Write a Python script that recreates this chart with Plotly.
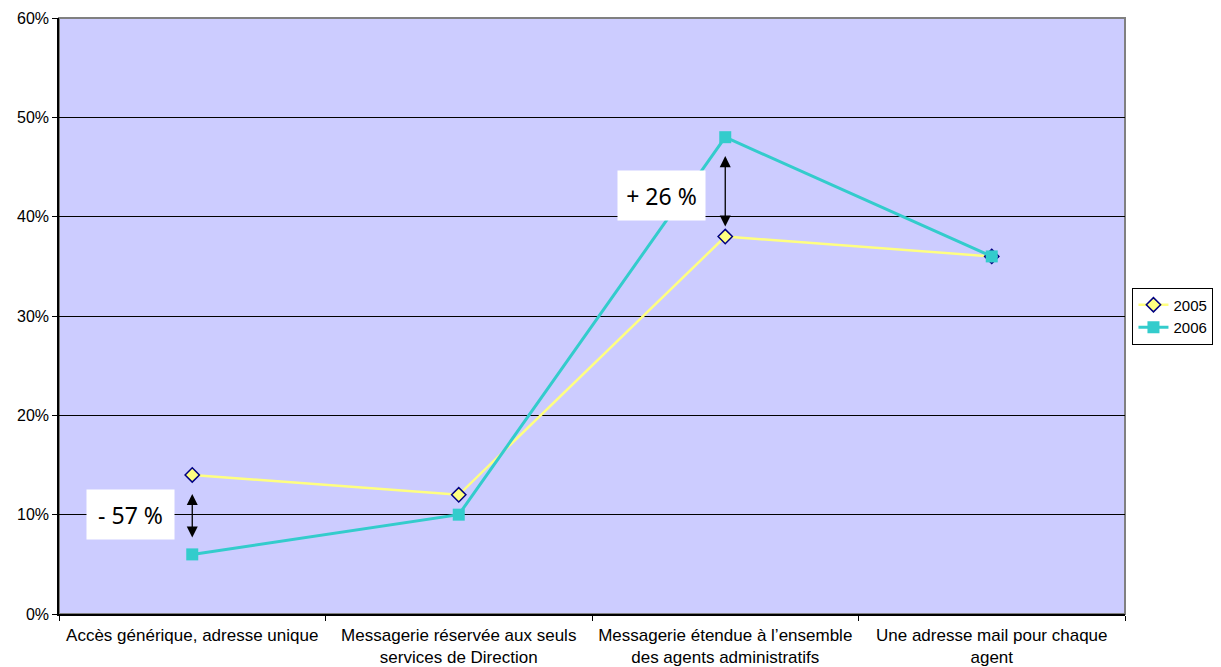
import plotly.graph_objects as go

categories = [
    "Accès générique, adresse unique",
    "Messagerie réservée aux seuls<br>services de Direction",
    "Messagerie étendue à l’ensemble<br>des agents administratifs",
    "Une adresse mail pour chaque<br>agent",
]
values_2005 = [0.14, 0.12, 0.38, 0.36]
values_2006 = [0.06, 0.10, 0.48, 0.36]
y_ticks = [0, 0.1, 0.2, 0.3, 0.4, 0.5, 0.6]
y_tick_labels = ["0%", "10%", "20%", "30%", "40%", "50%", "60%"]

fig = go.Figure()
fig.add_trace(go.Scatter(
    x=categories, y=values_2005, name="2005", mode="lines+markers",
    line=dict(color="#FFFF80", width=2.5),
    marker=dict(symbol="diamond", size=11, color="#FFFF80",
                line=dict(color="#000080", width=1.5)),
))
fig.add_trace(go.Scatter(
    x=categories, y=values_2006, name="2006", mode="lines+markers",
    line=dict(color="#33CCCC", width=3),
    marker=dict(symbol="square", size=12, color="#33CCCC",
                line=dict(color="#33CCCC", width=0)),
))

# plot border (gray top/right)
fig.add_shape(type="rect", xref="paper", yref="paper", x0=0, x1=1, y0=0, y1=1,
              line=dict(color="#808080", width=2), layer="below")

# labels in white boxes
fig.add_annotation(x=0.0675, y=0.0997, xref="paper", yref="y",
                   xanchor="center", yanchor="middle",
                   text="- 57 %", showarrow=False, bgcolor="white",
                   font=dict(family="Noto Sans", size=23, color="black"),
                   borderpad=0, width=87, height=49)
fig.add_annotation(x=0.5652, y=0.421, xref="paper", yref="y",
                   xanchor="center", yanchor="middle",
                   text="+ 26 %", showarrow=False, bgcolor="white",
                   font=dict(family="Noto Sans", size=23, color="black"),
                   borderpad=0, width=87, height=49)

# double-headed arrows
fig.add_annotation(x=categories[0], y=0.077, xref="x", yref="y",
                   ax=0, ay=-45, text="", showarrow=True,
                   arrowhead=2, startarrowhead=2, arrowside="end+start",
                   arrowsize=1.7, startarrowsize=1.7, arrowwidth=1.3,
                   arrowcolor="black", standoff=0, startstandoff=0)
fig.add_annotation(x=categories[2], y=0.39, xref="x", yref="y",
                   ax=0, ay=-72, text="", showarrow=True,
                   arrowhead=2, startarrowhead=2, arrowside="end+start",
                   arrowsize=1.7, startarrowsize=1.7, arrowwidth=1.3,
                   arrowcolor="black", standoff=0, startstandoff=0)

fig.update_layout(
    width=1221, height=667,
    margin=dict(l=51, r=104, t=10, b=61, autoexpand=False),
    paper_bgcolor="white", plot_bgcolor="#CCCCFF",
    font=dict(family="Liberation Sans, Arial", size=16, color="black"),
    showlegend=True,
    legend=dict(x=1.007, y=0.5, xanchor="left", yanchor="middle",
                bgcolor="white", bordercolor="black", borderwidth=1,
                font=dict(size=15), tracegroupgap=0, itemwidth=30),
)
fig.update_xaxes(
    type="category", range=[-0.5, 3.5], showgrid=False, automargin=False,
    showline=True, linecolor="black", linewidth=1.5,
    ticks="outside", tickson="boundaries", ticklen=5, tickcolor="black",
    tickfont=dict(size=17), ticklabelstandoff=5, zeroline=False,
)
fig.update_yaxes(
    range=[0, 0.6], tickvals=y_ticks, ticktext=y_tick_labels, automargin=False,
    showgrid=True, gridcolor="black", gridwidth=1,
    showline=True, linecolor="black", linewidth=1.5,
    ticks="outside", ticklen=5, tickcolor="black",
    tickfont=dict(size=16), zeroline=False,
)

fig.write_html("out.html")
